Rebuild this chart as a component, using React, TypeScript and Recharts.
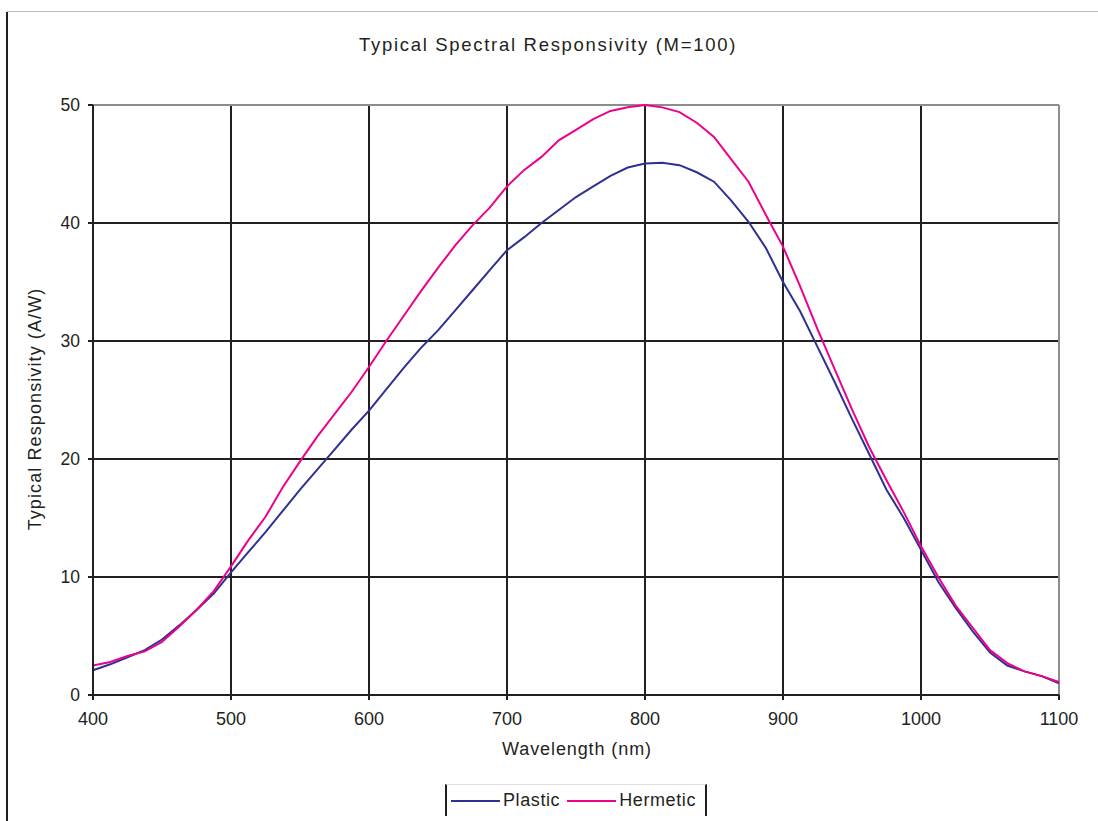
import React from 'react';
import { LineChart, Line, XAxis, YAxis, CartesianGrid, ReferenceLine } from 'recharts';

const wavelengths = [400, 412.5, 425, 437.5, 450, 462.5, 475, 487.5, 500, 512.5, 525, 537.5, 550, 562.5, 575, 587.5, 600, 612.5, 625, 637.5, 650, 662.5, 675, 687.5, 700, 712.5, 725, 737.5, 750, 762.5, 775, 787.5, 800, 812.5, 825, 837.5, 850, 862.5, 875, 887.5, 900, 912.5, 925, 937.5, 950, 962.5, 975, 987.5, 1000, 1012.5, 1025, 1037.5, 1050, 1062.5, 1075, 1087.5, 1100];

const plastic = [2.1, 2.6, 3.2, 3.8, 4.7, 5.9, 7.2, 8.6, 10.4, 12.1, 13.8, 15.6, 17.4, 19.1, 20.8, 22.5, 24.1, 25.9, 27.7, 29.4, 30.9, 32.6, 34.3, 36.0, 37.7, 38.8, 40.0, 41.1, 42.2, 43.1, 44.0, 44.7, 45.05, 45.1, 44.9, 44.3, 43.5, 41.9, 40.1, 37.9, 35.0, 32.5, 29.5, 26.5, 23.4, 20.4, 17.4, 15.0, 12.3, 9.6, 7.4, 5.4, 3.6, 2.5, 2.0, 1.6, 1.0];

const hermetic = [2.5, 2.8, 3.3, 3.7, 4.5, 5.8, 7.2, 8.8, 10.9, 13.1, 15.1, 17.6, 19.8, 21.9, 23.8, 25.7, 27.8, 30.0, 32.1, 34.2, 36.2, 38.1, 39.8, 41.3, 43.1, 44.5, 45.6, 47.0, 47.9, 48.8, 49.5, 49.8, 50.0, 49.8, 49.4, 48.5, 47.3, 45.4, 43.5, 40.7, 38.0, 34.6, 31.0, 27.6, 24.2, 21.0, 18.2, 15.5, 12.6, 10.0, 7.6, 5.7, 3.8, 2.7, 2.0, 1.6, 1.1];

const xTicks = [400, 500, 600, 700, 800, 900, 1000, 1100];
const yTicks = [0, 10, 20, 30, 40, 50];

const seriesNames = ['Plastic', 'Hermetic'];
const seriesColors = ['#2e3192', '#ec008c'];

const titleText = 'Typical Spectral Responsivity (M=100)';
const xLabel = 'Wavelength (nm)';
const yLabel = 'Typical Responsivity (A/W)';

const data = wavelengths.map((w, i) => ({ w, plastic: plastic[i], hermetic: hermetic[i] }));

const FONT = 'Arial, "Liberation Sans", sans-serif';
const INK = '#231f20';

export default function App() {
  return (
    <div style={{ position: 'absolute', left: 0, top: 0, width: 1098, height: 821, background: '#fff', fontFamily: FONT, overflow: 'hidden' }}>
      <div style={{ position: 'absolute', left: 7, top: 11, width: 1091, height: 1, background: '#bdbdbd' }} />
      <div style={{ position: 'absolute', left: 6, top: 12, width: 2, height: 809, background: INK }} />
      <div style={{ position: 'absolute', left: 359, top: 34, whiteSpace: 'nowrap', fontSize: 18.5, color: INK, letterSpacing: 1.7 }}>
        {titleText}
      </div>
      <div style={{ position: 'absolute', left: 0, top: 0 }}>
        <LineChart width={1098} height={821} data={data} margin={{ top: 105, right: 39, left: 33, bottom: 96 }}>
          <CartesianGrid stroke={INK} strokeWidth={2} />
          <XAxis
            dataKey="w"
            type="number"
            domain={[400, 1100]}
            ticks={xTicks}
            height={30}
            axisLine={{ stroke: INK, strokeWidth: 2 }}
            tickLine={{ stroke: INK, strokeWidth: 2 }}
            tickSize={5}
            tick={{ fill: INK, fontSize: 18, fontFamily: FONT }}
            tickMargin={12}
            label={{
              content: () => (
                <text x={577} y={755} textAnchor="middle" fill={INK} fontSize={18} fontFamily={FONT} letterSpacing={0.9}>
                  {xLabel}
                </text>
              ),
            }}
          />
          <YAxis
            type="number"
            domain={[0, 50]}
            ticks={yTicks}
            width={60}
            axisLine={{ stroke: INK, strokeWidth: 2 }}
            tickLine={{ stroke: INK, strokeWidth: 2 }}
            tickSize={5}
            tickMargin={8}
            tick={{ fill: INK, fontSize: 17.5, fontFamily: FONT }}
            label={{
              content: () => (
                <text x={41} y={409} transform="rotate(-90 41 409)" textAnchor="middle" fill={INK} fontSize={18} fontFamily={FONT} letterSpacing={1.1}>
                  {yLabel}
                </text>
              ),
            }}
          />
          <ReferenceLine y={50} stroke="#8c8c8c" strokeWidth={2} />
          <ReferenceLine x={1100} stroke="#8c8c8c" strokeWidth={2} />
          <Line type="linear" dataKey="plastic" name={seriesNames[0]} stroke={seriesColors[0]} strokeWidth={2} dot={false} isAnimationActive={false} />
          <Line type="linear" dataKey="hermetic" name={seriesNames[1]} stroke={seriesColors[1]} strokeWidth={2} dot={false} isAnimationActive={false} />
        </LineChart>
      </div>
      <div style={{ position: 'absolute', left: 445, top: 784, width: 258, height: 31, borderLeft: `2px solid ${INK}`, borderRight: `2px solid ${INK}`, borderTop: '1px solid #e0e0e0', display: 'flex', alignItems: 'center', fontSize: 18, color: INK, letterSpacing: 0.6, whiteSpace: 'nowrap' }}>
        {seriesNames.map((n, i) => (
          <div key={n} style={{ display: 'flex', alignItems: 'center', marginLeft: i === 0 ? 4 : 7 }}>
            <div style={{ width: 49, height: 2, background: seriesColors[i], marginRight: 3 }} />
            <span>{n}</span>
          </div>
        ))}
      </div>
    </div>
  );
}
